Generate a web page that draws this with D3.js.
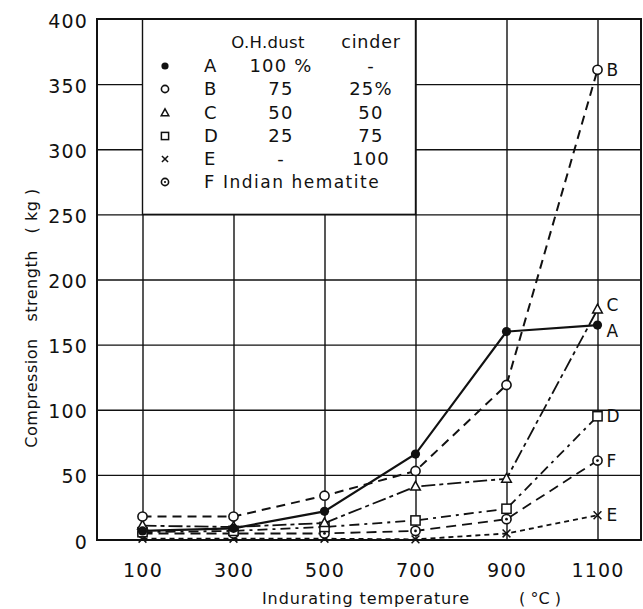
<!DOCTYPE html>
<html><head><meta charset="utf-8">
<script src="https://cdn.jsdelivr.net/npm/d3@7/dist/d3.min.js"></script>
<style>
body{margin:0;background:#fff;}
text{font-family:"DejaVu Sans",sans-serif;fill:#111;}
</style></head>
<body><svg id="c" width="643" height="609"></svg>
<script>
const temps = [100, 300, 500, 700, 900, 1100];
const seriesA = [7, 9, 22, 66, 160, 165];
const seriesB = [18, 18, 34, 53, 119, 361];
const seriesC = [11, 10, 13, 41, 47, 177];
const seriesD = [6, 7, 10, 15, 24, 95];
const seriesE = [1, 1, 1, 0.5, 5, 19];
const seriesF = [5, 5, 5, 7, 16, 61];
const seriesNames = ["A", "B", "C", "D", "E", "F"];
const ohDust = ["100 %", "75", "50", "25", "-", ""];
const cinder = ["-", "25%", "50", "75", "100", ""];
const yTicks = [0, 50, 100, 150, 200, 250, 300, 350, 400];
const xTicks = [100, 300, 500, 700, 900, 1100];

const svg = d3.select("#c");
const x = d3.scaleLinear().domain([0, 1200]).range([97, 643]);
const y = d3.scaleLinear().domain([0, 400]).range([540, 19]);
const right = 641;

// gridlines
const gy = svg.append("g").attr("transform", `translate(${x(0)},0)`)
  .call(d3.axisLeft(y).tickValues(yTicks.slice(1, -1)).tickSize(-(right - x(0))).tickFormat(""));
gy.select(".domain").remove();
gy.selectAll("line").attr("stroke", "#111").attr("stroke-width", 1.4);
const gx = svg.append("g").attr("transform", `translate(0,${y(0)})`)
  .call(d3.axisBottom(x).tickValues(xTicks).tickSize(-(y(0) - y(400))).tickFormat(""));
gx.select(".domain").remove();
gx.selectAll("line").attr("stroke", "#111").attr("stroke-width", 1.4);

// legend box (between gridlines)
svg.append("rect").attr("x", x(100)).attr("y", y(400)).attr("width", x(700) - x(100)).attr("height", y(250) - y(400))
  .attr("fill", "#fff").attr("stroke", "#111").attr("stroke-width", 1.4);

// frame
svg.append("rect").attr("x", x(0)).attr("y", y(400)).attr("width", right - x(0)).attr("height", y(0) - y(400))
  .attr("fill", "none").attr("stroke", "#111").attr("stroke-width", 2);

// axis labels
const ya = svg.append("g").attr("transform", `translate(${x(0)},2)`)
  .call(d3.axisLeft(y).tickValues(yTicks).tickSize(0).tickPadding(9).tickFormat(d3.format("d")));
ya.select(".domain").remove();
ya.selectAll("text").attr("font-size", 19).attr("letter-spacing", 1.2).attr("font-family", "DejaVu Sans").attr("fill", "#111");
const xa = svg.append("g").attr("transform", `translate(0,${y(0)})`)
  .call(d3.axisBottom(x).tickValues(xTicks).tickSize(0).tickPadding(24).tickFormat(d3.format("d")));
xa.select(".domain").remove();
xa.selectAll("text").attr("font-size", 19).attr("letter-spacing", 1.2).attr("font-family", "DejaVu Sans").attr("fill", "#111");

svg.append("text").attr("transform", "translate(37,318) rotate(-90)").attr("text-anchor", "middle")
  .attr("font-size", 16).attr("letter-spacing", 0.5).style("white-space", "pre")
  .text("Compression   strength   ( kg )");
svg.append("text").attr("x", 366).attr("y", 604).attr("text-anchor", "middle").attr("font-size", 16).attr("letter-spacing", 0.9)
  .text("Indurating temperature");
svg.append("text").attr("x", 540).attr("y", 604).attr("text-anchor", "middle").attr("font-size", 16).style("white-space", "pre")
  .text("( \u00b0C )");

// series
const allSeries = [seriesA, seriesB, seriesC, seriesD, seriesE, seriesF];
const dashes = [null, "9,6", "14,4,4,4", "10,5,3,5", "5,4", "10,6"];
const widths = [2.2, 2, 1.8, 1.8, 1.8, 1.8];
const line = d3.line().x((d, i) => x(temps[i])).y(d => y(d));
const drawOrder = [4, 5, 3, 2, 1, 0];
drawOrder.forEach(k => {
  svg.append("path").datum(allSeries[k]).attr("d", line).attr("fill", "none")
    .attr("stroke", "#111").attr("stroke-width", widths[k]).attr("stroke-dasharray", dashes[k]);
});

function marker(g, k, cx, cy, r) {
  const s = "#111";
  if (k === 0) g.append("circle").attr("cx", cx).attr("cy", cy).attr("r", r).attr("fill", s);
  else if (k === 1) g.append("circle").attr("cx", cx).attr("cy", cy).attr("r", r).attr("fill", "#fff").attr("stroke", s).attr("stroke-width", 1.6);
  else if (k === 2) g.append("path").attr("d", `M${cx},${cy - r * 1.15}L${cx + r * 1.05},${cy + r * 0.75}L${cx - r * 1.05},${cy + r * 0.75}Z`).attr("fill", "#fff").attr("stroke", s).attr("stroke-width", 1.5);
  else if (k === 3) g.append("rect").attr("x", cx - r).attr("y", cy - r).attr("width", 2 * r).attr("height", 2 * r).attr("fill", "#fff").attr("stroke", s).attr("stroke-width", 1.5);
  else if (k === 4) g.append("path").attr("d", `M${cx - r * 0.85},${cy - r * 0.85}L${cx + r * 0.85},${cy + r * 0.85}M${cx - r * 0.85},${cy + r * 0.85}L${cx + r * 0.85},${cy - r * 0.85}`).attr("stroke", s).attr("stroke-width", 1.5);
  else {
    g.append("circle").attr("cx", cx).attr("cy", cy).attr("r", r).attr("fill", "#fff").attr("stroke", s).attr("stroke-width", 1.6);
    g.append("circle").attr("cx", cx).attr("cy", cy).attr("r", r * 0.3).attr("fill", s);
  }
}
const mg = svg.append("g");
drawOrder.forEach(k => {
  allSeries[k].forEach((v, i) => marker(mg, k, x(temps[i]), y(v), 4.6));
});

// end labels
const lblDy = [12, 6, 2, 6, 6, 6];
allSeries.forEach((s, k) => {
  svg.append("text").attr("x", x(1100) + 9).attr("y", y(s[s.length - 1]) + lblDy[k])
    .attr("font-size", 17).text(seriesNames[k]);
});

// legend contents
const rowY = [66, 89, 113, 136, 159, 182];
svg.append("text").attr("x", 268).attr("y", 48).attr("text-anchor", "middle").attr("font-size", 16.5).attr("letter-spacing", 0.3).text("O.H.dust");
svg.append("text").attr("x", 371).attr("y", 48).attr("text-anchor", "middle").attr("font-size", 17.5).attr("letter-spacing", 0.8).text("cinder");
const lg = svg.append("g");
seriesNames.forEach((n, k) => {
  const cy = rowY[k];
  marker(lg, k, 165, cy, 3.6);
  lg.append("text").attr("x", 204).attr("y", cy + 6).attr("font-size", 18).text(n);
  if (ohDust[k]) lg.append("text").attr("x", 281).attr("y", cy + 6).attr("text-anchor", "middle").attr("font-size", 18).attr("letter-spacing", 1.2).text(ohDust[k]);
  if (cinder[k]) lg.append("text").attr("x", 371).attr("y", cy + 6).attr("text-anchor", "middle").attr("font-size", 18).attr("letter-spacing", 1.2).text(cinder[k]);
});
lg.append("text").attr("x", 223).attr("y", rowY[5] + 6).attr("font-size", 17).attr("letter-spacing", 1.5).text("Indian hematite");
</script></body></html>
